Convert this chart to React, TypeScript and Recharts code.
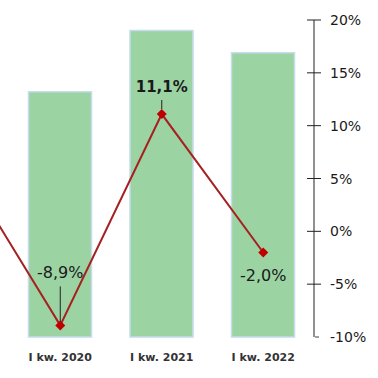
import { ComposedChart, Bar, Line, XAxis, YAxis, LabelList } from 'recharts';

// first quarter is outside the visible crop, only its line segment shows
const categories = ['I kw. 2019', 'I kw. 2020', 'I kw. 2021', 'I kw. 2022'];
const barValues = [null, 23.2, 29.0, 26.9];
const changeValues = [6.8, -8.9, 11.1, -2.0];
const pctTicks = [-10, -5, 0, 5, 10, 15, 20];

const data = categories.map((name, i) => ({
  name,
  bar: barValues[i],
  change: changeValues[i],
}));

const FONT = '"DejaVu Sans", sans-serif';
const fmt = (v: number) => `${v.toFixed(1).replace('.', ',')}%`;

// label placement relative to each point: [dy, bold, leader line]
const labelLayout: Record<number, { dy: number; bold: boolean; leader?: [number, number] }> = {
  1: { dy: -53, bold: false, leader: [-39, -4] },
  2: { dy: -27, bold: true, leader: [-14, -5] },
  3: { dy: 23, bold: false },
};

function CategoryTick(props: any) {
  const { x, y, payload, index } = props;
  // the cropped-off quarter keeps no label
  if (index === 0) return <g />;
  return (
    <text
      x={x}
      y={y}
      dy="0.71em"
      textAnchor="middle"
      fill="#333"
      fontSize={11}
      fontWeight="bold"
      fontFamily={FONT}
    >
      {payload.value}
    </text>
  );
}

function PctTick(props: any) {
  const { x, y, payload } = props;
  const last = payload.value === -10;
  return (
    <g>
      {last ? (
        <line x1={x + 1} x2={x + 5} y1={y} y2={y} stroke="#444" strokeWidth={1} />
      ) : (
        <line x1={x - 7} x2={x + 7} y1={y} y2={y} stroke="#222" strokeWidth={1} />
      )}
      <text x={x + 16} y={y} dy="0.36em" fill="#1a1a1a" fontSize={14} fontFamily={FONT}>
        {payload.value}%
      </text>
    </g>
  );
}

function Diamond(props: any) {
  const { cx, cy, index } = props;
  if (cx == null || cy == null) return <g key={index} />;
  const s = 5;
  return (
    <path
      key={index}
      d={`M${cx},${cy - s}L${cx + s},${cy}L${cx},${cy + s}L${cx - s},${cy}Z`}
      fill="#C00000"
    />
  );
}

function ChangeLabel(props: any) {
  const { x, y, value, index } = props;
  const l = labelLayout[index];
  if (!l) return null;
  return (
    <g>
      {l.leader && (
        <line x1={x} x2={x} y1={y + l.leader[0]} y2={y + l.leader[1]} stroke="#222" strokeWidth={1} />
      )}
      <text
        x={x}
        y={y + l.dy}
        dy="0.36em"
        textAnchor="middle"
        fill="#1a1a1a"
        fontSize={l.bold ? 15 : 16}
        fontWeight={l.bold ? 'bold' : 'normal'}
        fontFamily={FONT}
      >
        {fmt(value)}
      </text>
    </g>
  );
}

export default function App() {
  return (
    <div
      style={{
        position: 'fixed',
        left: 0,
        top: 0,
        width: 378,
        height: 378,
        overflow: 'hidden',
        background: '#fff',
      }}
    >
      <ComposedChart
        width={478}
        height={378}
        data={data}
        margin={{ top: 20, right: 0, left: 8, bottom: 0 }}
        style={{ position: 'absolute', left: -100, top: 0 }}
      >
        <XAxis
          dataKey="name"
          height={41}
          axisLine={false}
          tickLine={false}
          tickSize={6}
          tickMargin={10}
          interval={0}
          tick={<CategoryTick />}
        />
        <YAxis yAxisId="bar" hide domain={[0, 30]} />
        <YAxis
          yAxisId="pct"
          orientation="right"
          domain={[-10, 20]}
          ticks={pctTicks}
          width={64}
          tickSize={0}
          tickMargin={0}
          tickLine={false}
          axisLine={{ stroke: '#222', strokeWidth: 1 }}
          tick={<PctTick />}
        />
        <Bar
          yAxisId="bar"
          dataKey="bar"
          barSize={63}
          fill="#9CD3A3"
          stroke="#C4DCEC"
          strokeWidth={1.5}
          isAnimationActive={false}
        />
        <Line
          yAxisId="pct"
          dataKey="change"
          stroke="#A52020"
          strokeWidth={2}
          dot={<Diamond />}
          activeDot={false}
          isAnimationActive={false}
        >
          <LabelList dataKey="change" content={<ChangeLabel />} />
        </Line>
      </ComposedChart>
    </div>
  );
}
